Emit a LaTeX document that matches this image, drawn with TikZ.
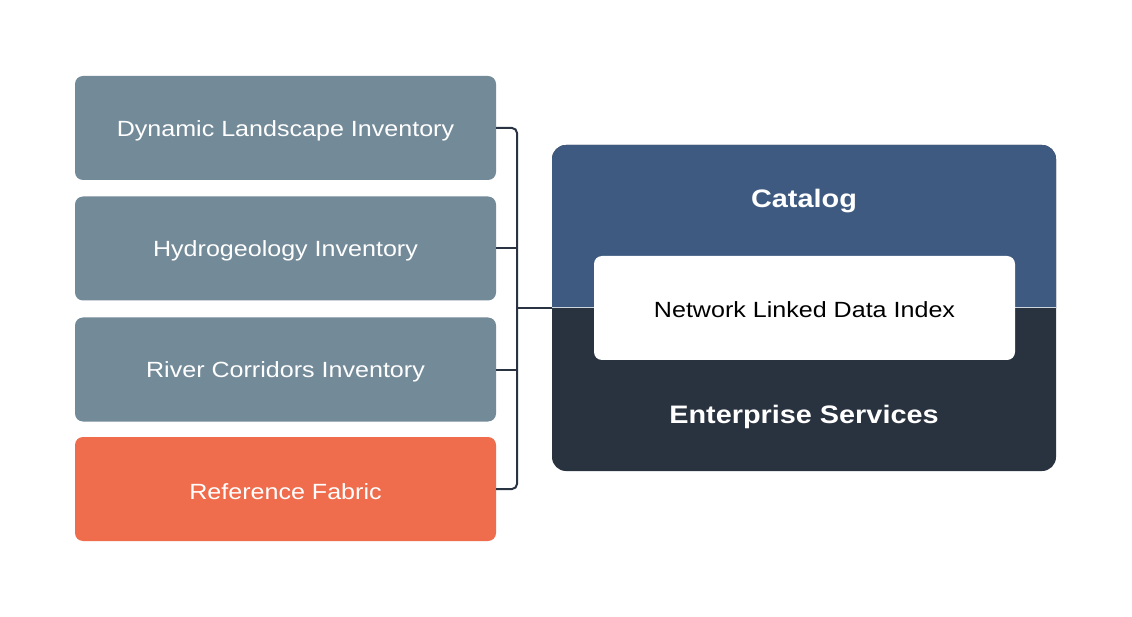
\documentclass[tikz,border=0pt]{standalone}
\usepackage{fontspec}
\setmainfont{Liberation Sans}[FakeStretch=1.14]
\definecolor{invgrey}{HTML}{738A99}
\definecolor{reforange}{HTML}{EF6C4C}
\definecolor{catblue}{HTML}{3E5A80}
\definecolor{entdark}{HTML}{29323F}
\definecolor{linedark}{HTML}{2A3342}
\begin{document}
\begin{tikzpicture}[x=1pt,y=-1pt,
  leftbox/.style={rectangle, rounded corners=8pt, minimum width=421pt, minimum height=104pt, inner sep=0pt, text=white, font=\fontsize{22}{26}\selectfont},
  txt/.style={inner sep=0pt, font=\fontsize{22}{26}\selectfont},
  conn/.style={draw=linedark, line width=2pt},
  bigtxt/.style={text=white, font=\fontsize{25.3}{30}\selectfont\bfseries, inner sep=0pt}]
\useasboundingbox[fill=white] (0,0) rectangle (1132,617);
% left boxes
\node[leftbox, fill=invgrey] (b1) at (285.5,128) {};
\node[leftbox, fill=invgrey] (b2) at (285.5,248.5) {};
\node[leftbox, fill=invgrey] (b3) at (285.5,369.5) {};
\node[leftbox, fill=reforange] (b4) at (285.5,489) {};
\node[txt, text=white] (t1) at ([yshift=-2.5pt]b1.center) {Dynamic Landscape Inventory};
\node[txt, text=white] (t2) at ([yshift=-2.5pt]b2.center) {Hydrogeology Inventory};
\node[txt, text=white] (t3) at ([yshift=-2.5pt]b3.center) {River Corridors Inventory};
\node[txt, text=white] (t4) at ([yshift=-2.5pt]b4.center) {Reference Fabric};
% right box
\node[rectangle, rounded corners=14pt, fill=entdark, minimum width=504pt, minimum height=326pt, inner sep=0pt] (rb) at (804,308) {};
\begin{scope}
  \clip (552,145) rectangle (1056,308);
  \fill[catblue, rounded corners=14pt] (552,145) rectangle (1056,471);
\end{scope}
\draw[white!75!catblue, line width=1pt] (rb.west) -- (rb.east);
\node[bigtxt] (cat) at (804,201.5) {Catalog};
\node[bigtxt] (ent) at (804,417) {Enterprise Services};
\node[rectangle, rounded corners=8pt, fill=white, minimum width=421pt, minimum height=104pt, inner sep=0pt] (idx) at (804.5,308) {};
\node[txt] (idxt) at ([yshift=-2pt]idx.center) {Network Linked Data Index};
% connectors
\coordinate (bt) at (517,128);
\coordinate (bb) at (517,489);
\coordinate (bm) at (517,308);
\draw[conn, rounded corners=5pt] (b1.east) -- (bt) -- (bb) -- (b4.east);
\draw[conn] (b2.east) -- (b2.east -| bt);
\draw[conn] (b3.east) -- (b3.east -| bt);
\draw[conn] (bm) -- (rb.west);
\end{tikzpicture}
\end{document}
